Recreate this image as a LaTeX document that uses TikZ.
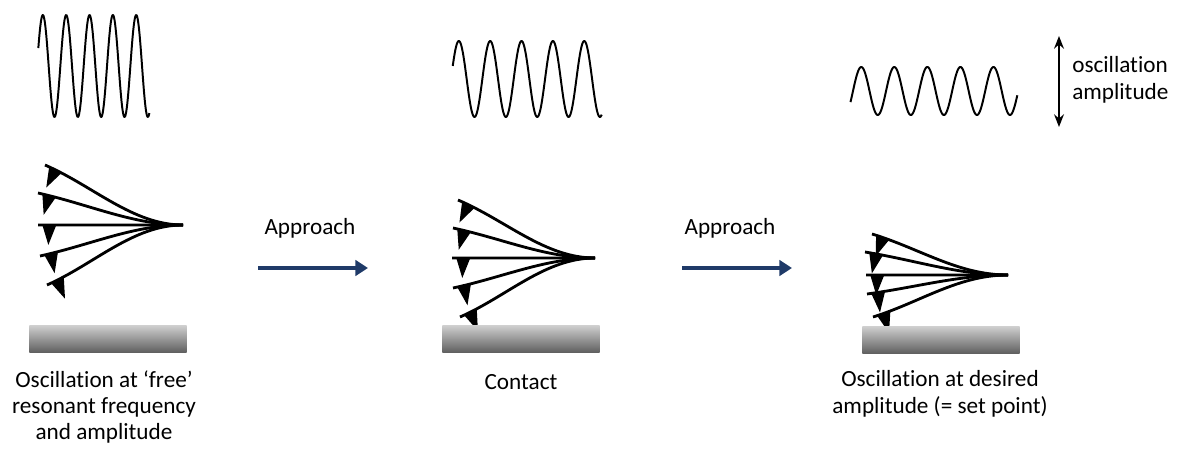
\documentclass[tikz,border=0pt]{standalone}
\usepackage{fontspec}
\setmainfont{Carlito}[Ligatures=NoCommon]
\usetikzlibrary{arrows.meta,calc,decorations.markings}
\definecolor{approachblue}{HTML}{1F3A68}
\tikzset{beam/.style={line width=2pt, decoration={
  markings,
  mark=at position 0.03 with {\fill (0,0) -- (14,0) -- (6,20) -- cycle;}},postaction={decorate}}}
\tikzset{trace/.style={line width=1.4pt, line join=round}}
\tikzset{substrate/.style={inner sep=0pt, minimum width=3.93cm, minimum height=0.65cm,
  top color=black!20, middle color=black!32, bottom color=black!62}}
\tikzset{approach/.style={approachblue, line width=2.8pt, -{Triangle[length=9pt,width=11pt]}}}
\tikzset{txt/.style={font=\fontsize{16.5}{18.8}\selectfont, inner sep=0pt}}

% x0, step per radian, centre line, amplitude, phase range
\newcommand{\osctrace}[6]{\draw[trace] plot[domain=#5:#6, samples=240, smooth] ({#1+#2*\x},{#3-#4*sin(\x r)});}

\begin{document}
\begin{tikzpicture}[x=0.025cm, y=-0.025cm]
      \useasboundingbox (0,0) rectangle (1180,459);

      % free oscillation, contact, set point
      \osctrace{37}{3.715}{66}{51}{0.36}{30.24}
      \osctrace{451}{4.99}{79}{38}{0.35}{30.2}
      \osctrace{853}{5.26}{91}{24}{-0.48}{31.24}

      \coordinate (base1) at (183,225);
      \foreach \ex/\ey in {45/165, 38/193, 38/225, 40/256, 47/285}
        \draw [beam] (\ex,\ey) .. controls ($(\ex,\ey)!0.35!(base1)$) and ($(base1)+(-50,0)$) .. (base1);
      \coordinate (base2) at (595,258);
      \foreach \ex/\ey in {458/200, 453/228, 452/258, 453/288, 460/317}
        \draw [beam] (\ex,\ey) .. controls ($(\ex,\ey)!0.35!(base2)$) and ($(base2)+(-50,0)$) .. (base2);
      \coordinate (base3) at (1008,275);
      \foreach \ex/\ey in {872/234, 865/252, 866/275, 867/294, 873/317}
        \draw [beam] (\ex,\ey) .. controls ($(\ex,\ey)!0.35!(base3)$) and ($(base3)+(-50,0)$) .. (base3);

      \node [substrate] (plate1) at (108,339) {};
      \node [substrate] (plate2) at (521,339) {};
      \node [substrate] (plate3) at (941,340) {};

      \coordinate (push1a) at (258,268);
      \coordinate (push1b) at (368,268);
      \coordinate (push2a) at (682,268);
      \coordinate (push2b) at (792,268);
      \draw [approach] (push1a) -- (push1b);
      \draw [approach] (push2a) -- (push2b);
      \node [txt] (step1) at (310,228) {Approach};
      \node [txt] (step2) at (730,228) {Approach};

      \coordinate (amptop) at (1059,36);
      \coordinate (ampbot) at (1059,127);
      \draw [line width=1.2pt, {Stealth[length=9pt,width=7pt]}-{Stealth[length=9pt,width=7pt]}] (amptop) -- (ampbot);
      \node [txt, anchor=west, align=left] (amplabel) at (1072,80) {oscillation\\amplitude};

      \node [txt, align=center] (cap1) at (104,407) {Oscillation at ‘free’\\resonant frequency\\and amplitude};
      \node [txt, align=center] (cap2) at (521,382) {Contact};
      \node [txt, align=center] (cap3) at (940,394) {Oscillation at desired\\amplitude (= set point)};

    \end{tikzpicture}
\end{document}
